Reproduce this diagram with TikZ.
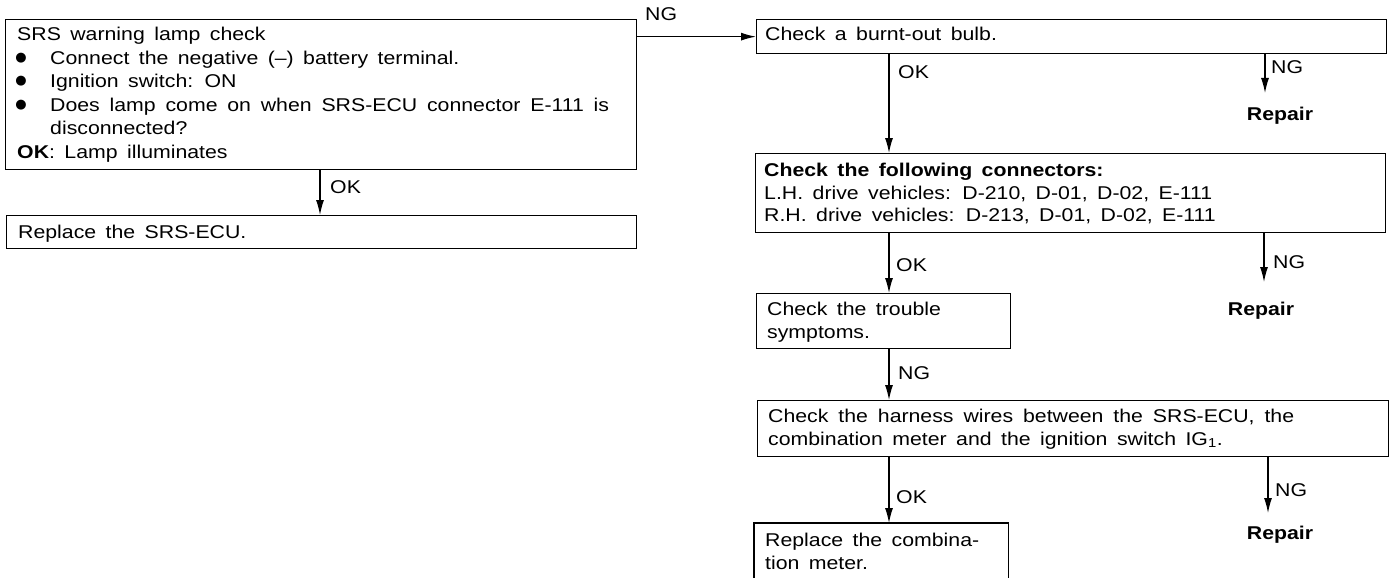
\documentclass[tikz,border=0pt]{standalone}
\usepackage{fontspec}
\setmainfont{Liberation Sans}[FakeStretch=1.15, WordSpace=1.6]
\newfontfamily\symfont{DejaVu Sans}
\usetikzlibrary{arrows.meta}
\newcommand{\bodyfont}{\fontsize{18.5}{23}\selectfont}
\newcommand{\bigbul}{{\symfont\fontsize{13}{13}\selectfont\raisebox{3pt}{●}}}
\begin{document}
\begin{tikzpicture}[x=1pt,y=-1pt,
  box/.style={draw, line width=1.3pt, inner sep=0, anchor=north west},
  txt/.style={anchor=base west, inner sep=0, font=\bodyfont},
  bul/.style={anchor=base, inner sep=0},
  rep/.style={anchor=base, inner sep=0, font=\bodyfont\bfseries},
  arr/.style={line width=1.2pt, -{Latex[length=15pt,width=8pt]}}]
\useasboundingbox (0,0) rectangle (1393,578);
% boxes
\node[box, minimum width=631pt, minimum height=150pt] (A) at (5,19) {};
\node[box, minimum width=630pt, minimum height=33pt] (RS) at (6,215) {};
\node[box, minimum width=630pt, minimum height=34pt] (B) at (756,19) {};
\node[box, minimum width=630pt, minimum height=79pt] (C) at (755,153) {};
\node[box, minimum width=254pt, minimum height=55pt] (D) at (756,293) {};
\node[box, minimum width=631pt, minimum height=56pt] (E) at (757,400) {};
\node[box, draw=none, minimum width=253pt, minimum height=55pt] (F) at (754,523) {};
\draw[line width=1.3pt] (F.south west) -- (F.north west) -- (F.north east) -- (F.south east);
% texts in A
\node[txt] (a1) at (17,41) {SRS warning lamp check};
\node[bul] (ab1) at (21,65) {\bigbul};
\node[txt] (a2) at (50,65) {Connect the negative (–) battery terminal.};
\node[bul] (ab2) at (21,88) {\bigbul};
\node[txt] (a3) at (50,88) {Ignition switch: ON};
\node[bul] (ab3) at (21,111) {\bigbul};
\node[txt] (a4) at (50,111) {\makebox[559pt][s]{Does lamp come on when SRS-ECU connector E-111 is}};
\node[txt] (a5) at (50,134) {disconnected?};
\node[txt] (a6) at (17,158) {\textbf{OK}: Lamp illuminates};
\node[txt] (rs1) at (18,238) {Replace the SRS-ECU.};
% right column texts
\node[txt] (b1) at (765,41) {Check a burnt-out bulb.};
\node[txt] (c1) at (764,176) {\textbf{Check the following connectors:}};
\node[txt] (c2) at (764,199) {L.H. drive vehicles: D-210, D-01, D-02, E-111};
\node[txt] (c3) at (764,221) {R.H. drive vehicles: D-213, D-01, D-02, E-111};
\node[txt] (d1) at (767,315) {Check the trouble};
\node[txt] (d2) at (767,338) {symptoms.};
\node[txt] (e1) at (768,422) {\makebox[526pt][s]{Check the harness wires between the SRS-ECU, the}};
\node[txt] (e2) at (768,445) {combination meter and the ignition switch IG\textsubscript{1}.};
\node[txt] (f1) at (765,546) {Replace the combina-};
\node[txt] (f2) at (765,569) {tion meter.};
% repair nodes
\node[rep] (R1) at (1280,121) {Repair};
\node[rep] (R2) at (1261,315) {Repair};
\node[rep] (R3) at (1280,539) {Repair};
% coordinates for arrow columns
\coordinate (xl) at (320,0);
\coordinate (xm) at (889,0);
\coordinate (t1) at (1265,93);
\coordinate (t2) at (1264,282);
\coordinate (t3) at (1268,513);
% arrows
\draw[arr] (A.east |- B.west) -- (B.west);
\draw[arr] (A.south -| xl) -- (RS.north -| xl);
\draw[arr] (B.south -| xm) -- (C.north -| xm);
\draw[arr] (B.south -| t1) -- (t1);
\draw[arr] (C.south -| xm) -- (D.north -| xm);
\draw[arr] (C.south -| t2) -- (t2);
\draw[arr] (D.south -| xm) -- (E.north -| xm);
\draw[arr] (E.south -| xm) -- (F.north -| xm);
\draw[arr] (E.south -| t3) -- (t3);
% labels
\node[txt] (lng1) at (645,21) {NG};
\node[txt] (lok1) at (330,193) {OK};
\node[txt] (lok2) at (898,79) {OK};
\node[txt] (lng2) at (1271,74) {NG};
\node[txt] (lok3) at (896,271) {OK};
\node[txt] (lng3) at (1273,268) {NG};
\node[txt] (lng4) at (898,379) {NG};
\node[txt] (lok4) at (896,503) {OK};
\node[txt] (lng5) at (1275,496) {NG};
\end{tikzpicture}
\end{document}
